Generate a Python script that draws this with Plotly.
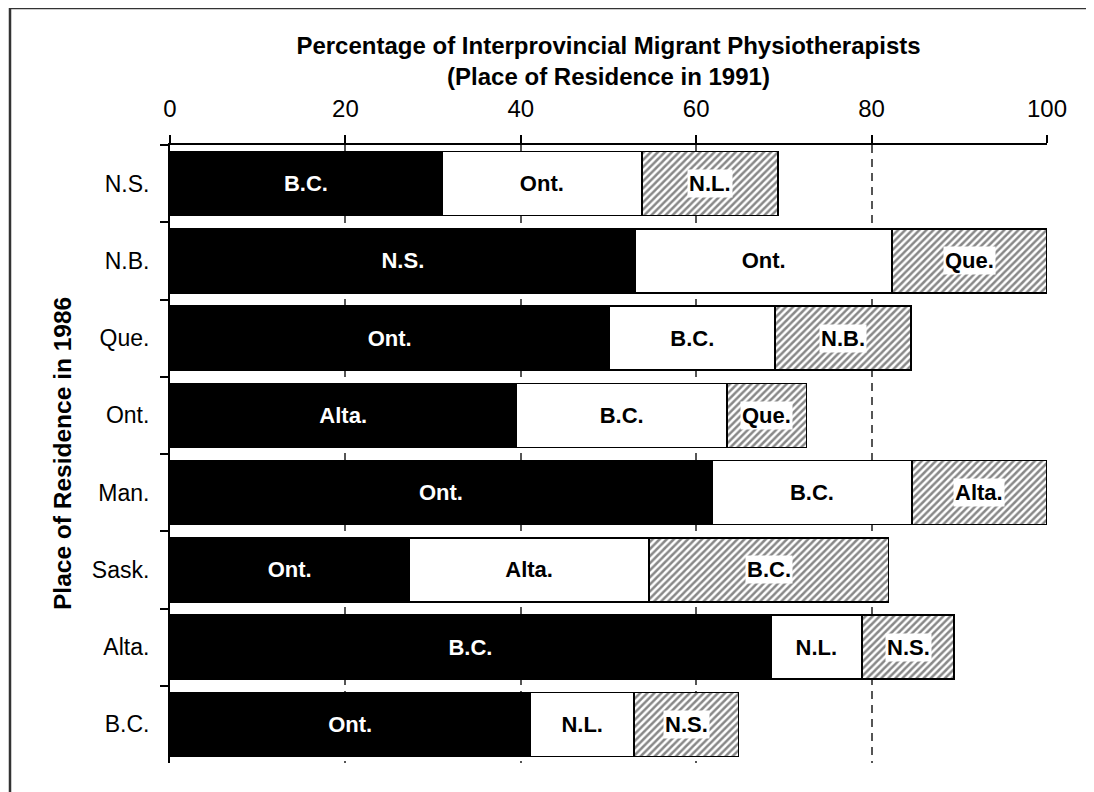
import plotly.graph_objects as go

origins = ["N.S.", "N.B.", "Que.", "Ont.", "Man.", "Sask.", "Alta.", "B.C."]
first_dest = ["B.C.", "N.S.", "Ont.", "Alta.", "Ont.", "Ont.", "B.C.", "Ont."]
first_pct = [31.0, 53.1, 50.1, 39.5, 61.8, 27.3, 68.5, 41.1]
second_dest = ["Ont.", "Ont.", "B.C.", "B.C.", "B.C.", "Alta.", "N.L.", "N.L."]
second_pct = [22.8, 29.2, 18.9, 24.0, 22.8, 27.3, 10.4, 11.8]
third_dest = ["N.L.", "Que.", "N.B.", "Que.", "Alta.", "B.C.", "N.S.", "N.S."]
third_pct = [15.5, 17.7, 15.5, 9.1, 15.4, 27.3, 10.5, 11.9]
x_ticks = [0, 20, 40, 60, 80, 100]

FONT = "Liberation Sans, Arial, sans-serif"
ML, MT, MR, MB = 162, 137, 55, 37
PW = 1094 - ML - MR
PH = 792 - MT - MB

fig = go.Figure()
fig.add_trace(go.Bar(
    y=origins, x=first_pct, orientation="h", text=first_dest,
    textposition="inside", insidetextanchor="middle", textangle=0,
    textfont=dict(color="white", size=22, family=FONT, weight="bold"),
    marker=dict(color="black", line=dict(color="black", width=1.5)),
    showlegend=False, hoverinfo="skip"))
fig.add_trace(go.Bar(
    y=origins, x=second_pct, orientation="h", text=second_dest,
    textposition="inside", insidetextanchor="middle", textangle=0,
    textfont=dict(color="black", size=22, family=FONT, weight="bold"),
    marker=dict(color="white", line=dict(color="black", width=1.5)),
    showlegend=False, hoverinfo="skip"))
fig.add_trace(go.Bar(
    y=origins, x=third_pct, orientation="h",
    marker=dict(color="white", line=dict(color="black", width=1.5),
                pattern=dict(shape="/", fgcolor="#111111", bgcolor="white",
                             size=5, solidity=0.5)),
    showlegend=False, hoverinfo="skip"))

annotations = []
for o, a, b, c, lab in zip(origins, first_pct, second_pct, third_pct, third_dest):
    annotations.append(dict(
        x=a + b + c / 2, y=o, xref="x", yref="y", text="<b>%s</b>" % lab,
        showarrow=False, bgcolor="white", borderpad=1,
        font=dict(color="black", size=22, family=FONT)))

annotations.append(dict(
    x=0, y=0.5, xref="paper", yref="paper", xanchor="center", yanchor="middle",
    xshift=-108, textangle=-90, showarrow=False,
    text="<b>Place of Residence in 1986</b>",
    font=dict(color="black", size=24.5, family=FONT)))

fig.update_layout(
    width=1094, height=792,
    margin=dict(l=ML, r=MR, t=MT, b=MB),
    paper_bgcolor="white", plot_bgcolor="white",
    barmode="stack", bargap=0.17,
    font=dict(family=FONT, color="black"),
    title=dict(text="<b>Percentage of Interprovincial Migrant Physiotherapists<br>(Place of Residence in 1991)</b>",
               x=0.5, xref="paper", xanchor="center", y=1 - 45.5 / 792, yanchor="middle", yref="container",
               font=dict(size=24, family=FONT, color="black")),
    annotations=annotations,
    shapes=[dict(type="rect", xref="paper", yref="paper",
                 x0=(2 - ML) / PW, y0=-0.08, x1=1.08, y1=1 + MT / PH,
                 line=dict(color="#333333", width=2.5), layer="above")],
)
fig.update_xaxes(
    side="top", range=[0, 100], tickvals=x_ticks, ticktext=[str(v) for v in x_ticks],
    showline=True, linecolor="black", linewidth=2,
    ticks="outside", ticklen=8, tickwidth=1.5, tickcolor="black",
    showgrid=True, gridcolor="#555555", gridwidth=1.5, griddash="8px,6px",
    zeroline=False, ticklabelstandoff=8,
    tickfont=dict(size=24, family=FONT, color="black"))
fig.update_yaxes(
    categoryorder="array", categoryarray=origins, autorange="reversed",
    showline=True, linecolor="black", linewidth=2,
    ticks="outside", tickson="boundaries", ticklen=8, tickwidth=1.5, tickcolor="black",
    showgrid=False, zeroline=False, ticklabelstandoff=14,
    tickfont=dict(size=23, family=FONT, color="black"))

fig.write_html("out.html")
